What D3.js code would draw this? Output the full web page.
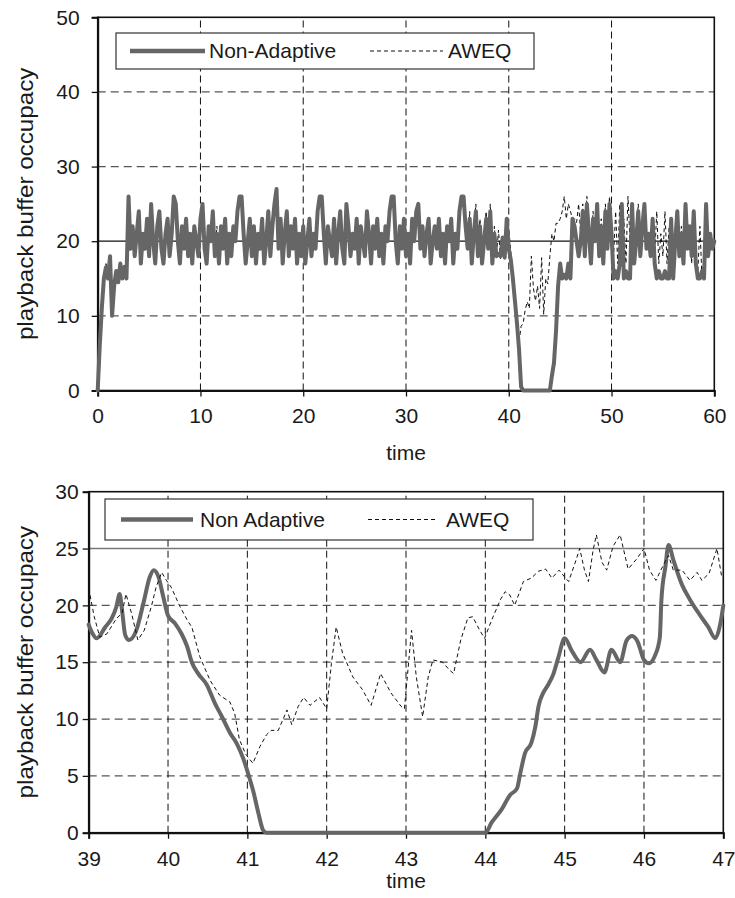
<!DOCTYPE html>
<html><head><meta charset="utf-8">
<script src="https://cdn.jsdelivr.net/npm/d3@7"></script>
<style>
body{margin:0;background:#fff}
svg{display:block}
text{font-family:"Liberation Sans",Arial,sans-serif;fill:#1a1a1a}
</style>
</head><body>
<svg id="c" width="735" height="898"></svg>
<script>
// ---------- DATA ----------
const seriesNames = ["Non-Adaptive", "AWEQ"];
const seriesNamesZoom = ["Non Adaptive", "AWEQ"];

// top panel: samples every 0.2 s from 0 to 60
const topStart = 0, topStep = 0.2;
const topNonAdaptive = [
 0,6,11,15,16.5, 15,18,10,14,16, 14.5,17,15,16.5,15,
 26,19,22,18,21, 24,17,21,19,23, 18,25,20,17,22, 24,19,17,21,23,
 18,21,26,25,20, 17,22,19,23,18, 21,17,22,20,18,
 23,25,19,17,22, 20,24,18,21,17, 22,19,23,17,21, 18,22,20,24,26,
 26,21,17,20,23, 18,22,17,21,19, 23,17,20,24,18, 22,25,27,19,23,
 17,21,24,18,22, 19,23,17,21,18,
 22,17,20,23,18, 21,19,24,26,26, 21,17,22,20,18, 23,17,21,24,19,
 17,25,22,18,21, 19,23,17,22,20, 18,24,21,17,22, 19,23,18,21,17,
 22,20,24,26,26, 20,17,22,19,23,
 18,21,17,23,20, 24,25,19,22,18, 21,23,17,20,22, 19,23,18,21,17,
 22,20,23,17,21, 19,24,26,26,22, 19,23,17,21,24, 18,22,17,20,23,
 19,24,17,21,18, 18.3,18,20.5,17.8,23,
 19,17.5,15,12,9, 5.5,0.5,0,0,0, 0,0,0,0,0, 0,0,0,0,0,
 0,2,3.7,8,14, 17,15,15.5,15,17, 15,23,22,20,18, 20,24,18,25,21,
 17,23,20,25,18, 22,17,24,19,25,
 21,15,16,15,17, 25,15,16,15,15, 25,17,20,24,18, 22,25,19,21,18,
 23,17,15,16,15, 15,16,15,15,23, 15,20,24,18,21, 17,25,19,22,18,
 24,17,15,15,16, 15,25,18,21,19,
 20
];
const topAWEQ = [
 0,7,12,15,17, 16,18,11,15,16, 15,17,16,17,16,
 26,20,22,18,21, 23,18,21,20,23, 19,25,21,17,22, 24,20,17,21,22,
 18,22,26,25,21, 17,22,20,23,18, 21,18,22,21,18,
 23,25,20,17,22, 21,24,18,22,17, 22,20,23,18,21, 18,22,21,24,26,
 26,22,17,20,23, 19,22,17,21,20, 23,18,20,24,18, 22,25,26,20,23,
 17,21,24,19,22, 19,23,18,21,18,
 22,17,21,23,18, 21,20,24,26,25, 21,18,22,20,18, 23,17,22,24,19,
 18,25,22,18,21, 20,23,17,22,20, 18,24,21,18,22, 19,23,18,21,17,
 22,21,24,26,25, 20,18,22,19,23,
 18,21,18,23,20, 24,25,20,22,18, 21,23,18,20,22, 19,23,18,21,17,
 22,20,23,18,21, 20,24,26,25,22, 19,24,17,22,25, 18,23,17,21,24,
 19,25,17,22,18, 21.5,17.5,19.3,19,22,
 21.6,18.6,13.4,11.5,8, 6.5,8.6,9,10.8,11.9, 11,18,13.7,12,14, 11,17.8,10.2,15,14.3,
 18,21,20,22.4,22.4, 23,24,26,23,25, 24,23,23,22.5,25, 21,25,19,26,22,
 18,24,21,25,19, 23,18,25,20,26,
 22,18,24,17,25, 19,23,17,26,20, 24,18,21,25,19, 22,25,20,21,18,
 23,18,24,17,21, 18,24,17,22,23, 17,21,24,19,22, 18,25,20,22,17,
 24,18,16,22,15, 18,25,19,21,20,
 20
];

// bottom (zoomed) panel: [time, value]
const zoomNonAdaptive = [
 [39.0,18.3],[39.05,17.5],[39.1,17.1],[39.21,18.1],[39.29,18.85],[39.35,19.9],[39.39,21.0],
 [39.42,19.6],[39.46,17.4],[39.51,16.95],[39.6,17.8],[39.69,20.2],[39.77,22.5],[39.82,23.1],
 [39.88,22.5],[39.94,20.75],[40.0,19.1],[40.09,18.4],[40.17,17.5],[40.24,16.4],[40.3,15.0],
 [40.38,14.0],[40.49,13.0],[40.59,11.4],[40.68,10.2],[40.78,8.8],[40.87,7.8],[40.95,6.5],
 [41.01,5.2],[41.08,3.5],[41.14,1.7],[41.2,0.2],[41.24,0],[42.0,0],[43.0,0],[44.0,0],
 [44.08,0.9],[44.21,2.1],[44.31,3.3],[44.4,3.9],[44.44,5.2],[44.5,7.0],[44.58,7.9],
 [44.63,9.3],[44.67,11.1],[44.73,12.3],[44.79,13.0],[44.86,14.0],[44.92,15.4],[45.0,17.1],
 [45.09,16.0],[45.2,15.0],[45.32,16.1],[45.4,15.2],[45.5,14.1],[45.59,16.1],[45.7,15.0],
 [45.78,16.9],[45.85,17.3],[45.92,16.8],[46.0,15.2],[46.06,14.9],[46.14,15.6],[46.2,17.2],
 [46.22,20.5],[46.27,23.4],[46.31,25.3],[46.37,24.0],[46.48,21.8],[46.58,20.5],[46.71,19.1],
 [46.81,18.1],[46.9,17.1],[46.96,18.3],[47.0,20.0]
];
const zoomAWEQ = [
 [39.0,21.5],[39.07,19.0],[39.14,17.2],[39.23,17.5],[39.35,18.85],[39.42,19.3],[39.47,21.0],
 [39.54,19.3],[39.62,16.95],[39.7,17.8],[39.79,19.9],[39.85,21.6],[39.92,22.9],[39.98,22.2],
 [40.04,21.6],[40.15,19.9],[40.25,18.6],[40.3,18.1],[40.4,15.5],[40.53,13.4],[40.65,12.1],
 [40.78,11.5],[40.84,10.5],[40.9,8.2],[40.98,6.9],[41.07,6.1],[41.16,7.6],[41.24,8.6],
 [41.3,9.0],[41.39,9.0],[41.5,10.8],[41.56,9.5],[41.64,11.1],[41.71,11.9],[41.79,11.2],
 [41.91,11.9],[42.0,10.9],[42.06,14.9],[42.12,18.1],[42.2,15.8],[42.33,13.7],[42.45,12.6],
 [42.56,11.2],[42.68,14.0],[42.81,12.3],[42.94,11.1],[42.98,10.9],[43.07,17.8],[43.13,13.7],
 [43.21,10.2],[43.28,13.7],[43.34,15.2],[43.46,15.0],[43.55,14.3],[43.6,14.0],[43.69,16.95],
 [43.78,18.9],[43.84,19.0],[43.93,17.8],[43.99,17.1],[44.08,18.7],[44.19,20.5],[44.25,21.2],
 [44.31,20.9],[44.37,20.0],[44.48,22.1],[44.58,22.4],[44.67,23.0],[44.76,23.2],[44.84,22.4],
 [44.93,23.1],[45.0,22.5],[45.05,22.1],[45.13,23.7],[45.19,25.0],[45.25,23.1],[45.3,22.1],
 [45.36,24.9],[45.4,26.2],[45.47,23.8],[45.53,23.1],[45.61,25.2],[45.7,26.2],[45.8,23.2],
 [45.91,24.1],[46.0,25.0],[46.07,23.1],[46.15,22.2],[46.22,23.2],[46.31,24.4],[46.37,23.1],
 [46.48,23.1],[46.58,22.2],[46.67,22.9],[46.73,22.2],[46.82,22.8],[46.92,25.0],[46.98,22.5],
 [47.0,22.5]
];

const topXTicks = [0,10,20,30,40,50,60];
const topYTicks = [0,10,20,30,40,50];
const zoomXTicks = [39,40,41,42,43,44,45,46,47];
const zoomYTicks = [0,5,10,15,20,25,30];

// ---------- DRAW ----------
const svg = d3.select("#c");

function panel(o){
  const x = d3.scaleLinear().domain(o.xDomain).range(o.xRange);
  const y = d3.scaleLinear().domain(o.yDomain).range(o.yRange);
  const g = svg.append("g");
  const [x0,x1] = o.xRange, [y0,y1] = o.yRange;

  // horizontal grid
  o.yTicks.forEach(v=>{
    if (v===o.yDomain[0] || v===o.yDomain[1]) return;
    const solid = v===o.solidY;
    g.append("line").attr("x1",x0).attr("x2",x1).attr("y1",y(v)).attr("y2",y(v))
      .attr("stroke", solid ? o.solidColor : "#555")
      .attr("stroke-width", solid ? o.solidWidth : 1.2)
      .attr("stroke-dasharray", solid ? null : "8,5");
  });
  // vertical grid
  o.xTicks.forEach(v=>{
    if (v===o.xDomain[0] || v===o.xDomain[1]) return;
    g.append("line").attr("x1",x(v)).attr("x2",x(v)).attr("y1",y0).attr("y2",y1)
      .attr("stroke","#111").attr("stroke-width",1).attr("stroke-dasharray","7,4");
  });

  // frame
  g.append("rect").attr("x",x0).attr("y",y1).attr("width",x1-x0).attr("height",y0-y1)
    .attr("fill","none").attr("stroke","#111").attr("stroke-width",1.6);

  // axes
  const ax = g.append("g").attr("transform",`translate(0,${y0})`)
    .call(d3.axisBottom(x).tickValues(o.xTicks).tickSize(6).tickPadding(12).tickFormat(d3.format("d")));
  const ay = g.append("g").attr("transform",`translate(${x0},0)`)
    .call(d3.axisLeft(y).tickValues(o.yTicks).tickSize(6).tickPadding(o.yPad).tickFormat(d3.format("d")));
  [ax,ay].forEach(a=>{
    a.select(".domain").attr("stroke","#111").attr("stroke-width",2);
    a.selectAll(".tick line").attr("stroke","#111").attr("stroke-width",1.3);
    a.selectAll(".tick text").attr("font-size",21).attr("font-family","Liberation Sans, Arial, sans-serif").attr("fill","#1a1a1a");
  });

  // series
  const lineNA = d3.line().x(d=>x(d[0])).y(d=>y(d[1])).curve(o.curve1);
  const lineAW = d3.line().x(d=>x(d[0])).y(d=>y(d[1])).curve(d3.curveLinear);
  const drawNA = ()=> g.append("path").attr("d", lineNA(o.s1))
    .attr("fill","none").attr("stroke","#666").attr("stroke-width",o.w1)
    .attr("stroke-linejoin","round").attr("stroke-linecap","round");
  const drawAW = ()=> g.append("path").attr("d", lineAW(o.s2))
    .attr("fill","none").attr("stroke","#111").attr("stroke-width",1)
    .attr("stroke-dasharray","4,3");
  if (o.naOnTop){ drawAW(); drawNA(); } else { drawNA(); drawAW(); }

  // titles
  g.append("text").attr("x",(x0+x1)/2).attr("y",o.xTitleY).attr("text-anchor","middle")
    .attr("font-size",21).text("time");
  g.append("text").attr("transform",`translate(${o.yTitleX},${(y0+y1)/2}) rotate(-90) scale(1.1,1)`)
    .attr("text-anchor","middle").attr("font-size",22).text("playback buffer occupacy");

  // legend
  const L = o.legend;
  g.append("rect").attr("x",L.x).attr("y",L.y).attr("width",L.w).attr("height",L.h)
    .attr("fill","#fff").attr("stroke","#333").attr("stroke-width",1.2);
  const ly = L.y + L.h/2;
  g.append("line").attr("x1",L.l1[0]).attr("x2",L.l1[1]).attr("y1",ly).attr("y2",ly)
    .attr("stroke","#666").attr("stroke-width",4.5);
  g.append("text").attr("x",L.t1).attr("y",ly+7).attr("font-size",21).text(L.names[0]);
  g.append("line").attr("x1",L.l2[0]).attr("x2",L.l2[1]).attr("y1",ly).attr("y2",ly)
    .attr("stroke","#111").attr("stroke-width",1).attr("stroke-dasharray","4,3");
  g.append("text").attr("x",L.t2).attr("y",ly+7).attr("font-size",21).text(L.names[1]);
}

const topNA = topNonAdaptive.map((v,i)=>[topStart+i*topStep, v]);
const topAW = topAWEQ.map((v,i)=>[topStart+i*topStep, v]);

panel({
  xDomain:[0,60], yDomain:[0,50], xRange:[97.7,714.3], yRange:[390.5,17.3],
  xTicks:topXTicks, yTicks:topYTicks, solidY:20, solidColor:"#111", solidWidth:1.2,
  yPad:12, s1:topNA, s2:topAW, w1:4, curve1:d3.curveLinear, naOnTop:true,
  xTitleY:460, yTitleX:33,
  legend:{x:116,y:33,w:418,h:36,l1:[130,205],t1:209,l2:[370,443],t2:448,names:seriesNames}
});
panel({
  xDomain:[39,47], yDomain:[0,30], xRange:[88.7,723.3], yRange:[832.7,491.7],
  xTicks:zoomXTicks, yTicks:zoomYTicks, solidY:25, solidColor:"#777", solidWidth:1.6,
  yPad:4, s1:zoomNonAdaptive, s2:zoomAWEQ, w1:4, curve1:d3.curveMonotoneX, naOnTop:false,
  xTitleY:888, yTitleX:33,
  legend:{x:105,y:499,w:428,h:41,l1:[121,193],t1:200,l2:[368,438],t2:446,names:seriesNamesZoom}
});
</script>
</body></html>
